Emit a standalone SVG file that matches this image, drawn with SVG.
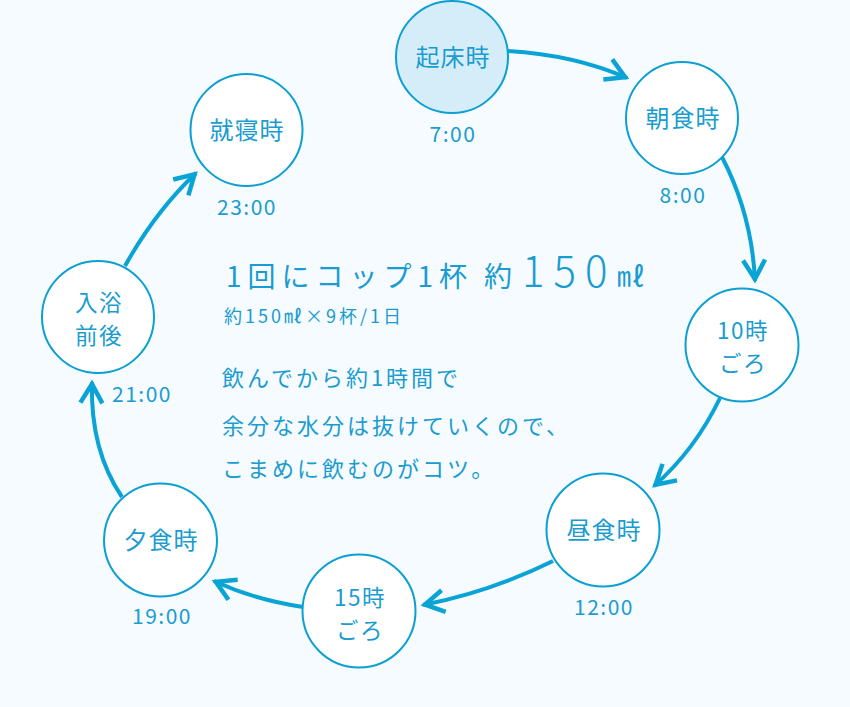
<svg xmlns="http://www.w3.org/2000/svg" width="850" height="707" viewBox="0 0 850 707">
<defs>
<style>
.n{fill:#ffffff;stroke:#0b9fd2;stroke-width:2}
.n0{fill:#d5edf8;stroke:#0b9fd2;stroke-width:2}
.lb{font-family:"Noto Sans CJK JP","Noto Sans",sans-serif;font-size:24px;fill:#1a9cd0;text-anchor:middle;letter-spacing:1px}
.l2{font-family:"Noto Sans CJK JP","Noto Sans",sans-serif;font-size:22.5px;fill:#1a9cd0;text-anchor:middle;letter-spacing:1.5px}
.tm{font-family:"Noto Sans CJK JP","Noto Sans",sans-serif;font-size:21px;fill:#1a9cd0;text-anchor:middle;letter-spacing:1.5px}
.tx{font-family:"Noto Sans CJK JP","Noto Sans",sans-serif;fill:#1a9cd0}
.c{fill:none;stroke:#0aa3d5;stroke-width:4;marker-end:url(#ah)}
</style>
<marker id="ah" markerUnits="userSpaceOnUse" markerWidth="40" markerHeight="40" viewBox="-30 -20 40 40" refX="0" refY="0" orient="auto">
<path d="M-21,-11 L-2,0 L-21,11" fill="none" stroke="#0aa3d5" stroke-width="4.5" stroke-linejoin="miter"/>
</marker>
</defs>
<rect width="850" height="707" fill="#f5fbfe"/>
<g id="connectors">
<path class="c" d="M508,51 Q575,55 627,78"/>
<path class="c" d="M722,157 Q752,215 755,281"/>
<path class="c" d="M720,398 Q695,450 654,486"/>
<path class="c" d="M553,561 Q490,592 423,605"/>
<path class="c" d="M303,607 Q255,600 214,581"/>
<path class="c" d="M122,497 Q90,450 92,382"/>
<path class="c" d="M125,266 Q155,212 196,173"/>
</g>
<g id="n-kisho"><circle class="n0" cx="452" cy="57" r="56"/><text class="lb" x="453" y="66">起床時</text><text class="tm" x="453" y="142">7:00</text></g>
<g id="n-choshoku"><circle class="n" cx="682" cy="118" r="56"/><text class="lb" x="683" y="127">朝食時</text><text class="tm" x="683" y="203">8:00</text></g>
<g id="n-10ji"><circle class="n" cx="742" cy="345" r="56.5"/><text class="l2"><tspan x="743" y="339">10時</tspan><tspan x="743" y="372">ごろ</tspan></text></g>
<g id="n-chushoku"><circle class="n" cx="603" cy="530" r="56.5"/><text class="lb" x="604" y="539">昼食時</text><text class="tm" x="604" y="615">12:00</text></g>
<g id="n-15ji"><circle class="n" cx="359" cy="611" r="56.5"/><text class="l2"><tspan x="360" y="606">15時</tspan><tspan x="360" y="639">ごろ</tspan></text></g>
<g id="n-yushoku"><circle class="n" cx="160.5" cy="540" r="56.5"/><text class="lb" x="161" y="549">夕食時</text><text class="tm" x="162" y="624">19:00</text></g>
<g id="n-nyuyoku"><circle class="n" cx="98" cy="317" r="56"/><text class="l2"><tspan x="99" y="311">入浴</tspan><tspan x="99" y="344">前後</tspan></text><text class="tm" x="142" y="402">21:00</text></g>
<g id="n-shushin"><circle class="n" cx="246.5" cy="130" r="56"/><text class="lb" x="247" y="139">就寝時</text><text class="tm" x="247" y="215">23:00</text></g>
<g id="center-text">
<text class="tx" y="287" font-size="28" letter-spacing="6"><tspan x="226">1回にコップ1杯</tspan><tspan x="484">約</tspan><tspan x="522" font-size="42" font-weight="300" letter-spacing="9">150</tspan><tspan x="617" font-size="28" letter-spacing="0">㎖</tspan></text>
<text class="tx" x="224" y="323" font-size="18" letter-spacing="3">約150㎖×9杯/1日</text>
<text class="tx" x="222" y="386" font-size="22" letter-spacing="3">飲んでから約1時間で</text>
<text class="tx" x="222" y="434" font-size="22" letter-spacing="3">余分な水分は抜けていくので、</text>
<text class="tx" x="222" y="477" font-size="22" letter-spacing="3">こまめに飲むのがコツ。</text>
</g>
</svg>
